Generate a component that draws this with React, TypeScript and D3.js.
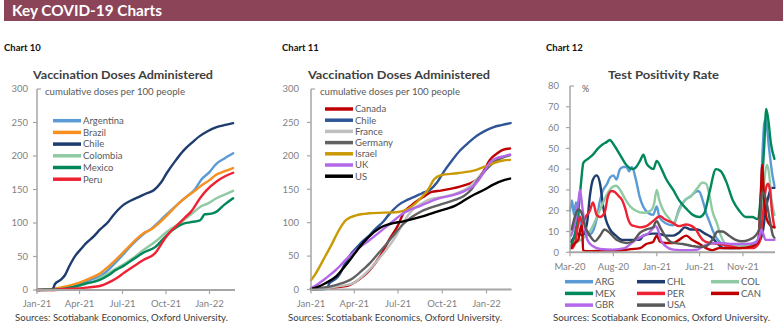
import React from "react";
import * as d3 from "d3";

type Pt = [string, number];

// ---------- Chart 10 : LatAm vaccination doses per 100 people ----------
const argentina: Pt[] = [["2021-01-01",0],["2021-01-20",0.5],["2021-02-05",1],["2021-03-01",3],["2021-04-01",9],["2021-05-01",17],["2021-05-15",21],["2021-06-01",30],["2021-06-15",40],["2021-07-01",52],["2021-07-15",63],["2021-08-01",75],["2021-08-15",84],["2021-09-01",92],["2021-09-15",101],["2021-10-01",112],["2021-10-15",121],["2021-11-01",132],["2021-11-15",140],["2021-12-01",150],["2021-12-15",165],["2022-01-01",176],["2022-01-15",188],["2022-02-01",196],["2022-02-20",204]];
const brazil: Pt[] = [["2021-01-01",0],["2021-01-20",0.5],["2021-02-05",2],["2021-03-01",5],["2021-04-01",11],["2021-05-01",20],["2021-05-15",25],["2021-06-01",35],["2021-06-15",44],["2021-07-01",55],["2021-07-15",65],["2021-08-01",77],["2021-08-15",85],["2021-09-01",91],["2021-09-15",99],["2021-10-01",110],["2021-10-15",120],["2021-11-01",132],["2021-11-15",140],["2021-12-01",148],["2021-12-15",156],["2022-01-01",164],["2022-01-15",172],["2022-02-01",177],["2022-02-20",182]];
const chile: Pt[] = [["2021-01-01",0],["2021-01-25",0.3],["2021-02-03",1],["2021-02-08",9],["2021-02-20",15],["2021-03-01",22],["2021-03-10",35],["2021-03-24",52],["2021-04-05",62],["2021-04-15",70],["2021-05-01",80],["2021-05-14",90],["2021-06-01",102],["2021-06-12",112],["2021-07-03",127],["2021-07-20",134],["2021-08-05",139],["2021-08-20",144],["2021-09-05",149],["2021-09-20",160],["2021-10-03",175],["2021-10-20",192],["2021-11-07",208],["2021-11-25",220],["2021-12-12",230],["2021-12-28",237],["2022-01-16",243],["2022-02-01",246],["2022-02-20",249]];
const colombia: Pt[] = [["2021-01-01",0],["2021-02-15",0],["2021-02-25",1],["2021-03-15",3],["2021-04-01",6],["2021-04-15",9],["2021-05-01",13],["2021-05-14",18],["2021-06-01",25],["2021-06-15",31],["2021-07-03",38],["2021-07-24",48],["2021-08-15",60],["2021-09-08",72],["2021-10-03",87],["2021-10-20",95],["2021-11-07",104],["2021-11-25",114],["2021-12-12",124],["2021-12-28",129],["2022-01-16",137],["2022-02-01",142],["2022-02-20",148]];
const mexico: Pt[] = [["2021-01-01",0],["2021-01-15",0.3],["2021-02-15",1],["2021-03-01",2],["2021-03-15",4],["2021-04-01",7],["2021-04-15",10],["2021-05-01",12],["2021-05-14",15],["2021-06-01",22],["2021-06-15",29],["2021-07-03",36],["2021-07-24",46],["2021-08-15",56],["2021-09-08",64],["2021-10-03",82],["2021-10-20",92],["2021-11-07",99],["2021-11-20",101],["2021-12-12",104],["2021-12-22",113],["2022-01-05",114],["2022-01-16",117],["2022-02-01",127],["2022-02-20",137]];
const peru: Pt[] = [["2021-01-01",0],["2021-02-08",0],["2021-02-15",1],["2021-03-01",1.5],["2021-04-01",2.5],["2021-04-20",4],["2021-05-14",6],["2021-06-01",11],["2021-06-19",18],["2021-07-05",26],["2021-07-24",35],["2021-08-15",45],["2021-09-08",55],["2021-09-27",75],["2021-10-10",87],["2021-10-25",97],["2021-11-10",108],["2021-11-23",117],["2021-12-12",137],["2021-12-26",149],["2022-01-16",162],["2022-02-01",169],["2022-02-20",175]];

// ---------- Chart 11 : other countries ----------
const canada: Pt[] = [["2021-01-01",0],["2021-01-20",1.5],["2021-02-15",3],["2021-03-15",5],["2021-04-05",12],["2021-04-20",20],["2021-05-03",29],["2021-05-24",49],["2021-06-14",76],["2021-07-01",96],["2021-07-12",114],["2021-07-29",126],["2021-08-26",140],["2021-09-09",146],["2021-09-28",148],["2021-10-20",151],["2021-11-07",154],["2021-11-25",158],["2021-12-11",164],["2021-12-25",176],["2022-01-08",194],["2022-01-22",203],["2022-02-04",209],["2022-02-19",211]];
const france: Pt[] = [["2021-01-01",0],["2021-01-20",1],["2021-02-10",3],["2021-03-01",5],["2021-03-29",9],["2021-04-15",18],["2021-05-03",30],["2021-05-20",44],["2021-06-07",60],["2021-06-25",78],["2021-07-12",100],["2021-07-25",114],["2021-08-05",122],["2021-08-20",129],["2021-09-02",134],["2021-10-06",139],["2021-11-07",146],["2021-11-25",153],["2021-12-11",164],["2021-12-25",175],["2022-01-08",185],["2022-01-25",194],["2022-02-19",201]];
const germany: Pt[] = [["2021-01-01",0],["2021-01-20",2],["2021-02-23",7],["2021-03-29",17],["2021-04-15",27],["2021-05-03",39],["2021-05-20",53],["2021-06-07",68],["2021-06-25",84],["2021-07-12",98],["2021-07-29",108],["2021-08-19",117],["2021-09-22",126],["2021-10-27",134],["2021-11-15",140],["2021-12-01",150],["2021-12-13",163],["2021-12-26",175],["2022-01-15",190],["2022-02-01",197],["2022-02-19",201]];
const israel: Pt[] = [["2021-01-01",14],["2021-01-09",22],["2021-01-30",49],["2021-02-12",66],["2021-02-26",86],["2021-03-15",104],["2021-04-05",111],["2021-05-03",114],["2021-07-01",116],["2021-07-29",124],["2021-08-19",138],["2021-09-02",150],["2021-09-14",165],["2021-09-28",171],["2021-11-01",174],["2021-12-11",179],["2022-01-08",187],["2022-02-04",193],["2022-02-19",194]];
const uk: Pt[] = [["2021-01-01",2],["2021-01-15",8],["2021-02-01",17],["2021-02-23",30],["2021-03-15",45],["2021-04-05",59],["2021-05-03",74],["2021-06-07",94],["2021-07-12",114],["2021-08-19",126],["2021-09-22",136],["2021-10-27",142],["2021-11-18",148],["2021-12-05",155],["2021-12-15",163],["2021-12-26",175],["2022-01-08",190],["2022-01-20",196],["2022-02-04",199],["2022-02-19",202]];
const us: Pt[] = [["2021-01-01",1],["2021-01-15",4],["2021-01-30",9],["2021-02-23",20],["2021-03-15",37],["2021-04-01",53],["2021-04-15",66],["2021-04-30",78],["2021-05-24",92],["2021-06-14",98],["2021-07-12",102],["2021-08-19",109],["2021-09-22",117],["2021-10-27",125],["2021-12-01",140],["2021-12-29",150],["2022-01-15",157],["2022-02-08",164],["2022-02-19",166]];

// ---------- Chart 12 : test positivity rate (%) ----------
const argPos: Pt[] = [["2020-03-01",20],["2020-03-08",25],["2020-03-15",18],["2020-03-22",24],["2020-03-31",20],["2020-04-10",12],["2020-04-25",8],["2020-05-15",9],["2020-06-03",16],["2020-06-15",25],["2020-06-26",30],["2020-07-10",33],["2020-07-20",36],["2020-08-01",37],["2020-08-12",35],["2020-08-24",40],["2020-09-05",41],["2020-09-16",41],["2020-09-25",39],["2020-10-05",41],["2020-10-21",34],["2020-11-01",27],["2020-11-14",22],["2020-12-01",19],["2020-12-19",18],["2021-01-01",22],["2021-01-10",17],["2021-02-01",14],["2021-02-28",13],["2021-03-21",21],["2021-04-10",25],["2021-05-01",27],["2021-05-25",29.5],["2021-06-01",29],["2021-06-12",25],["2021-06-24",19],["2021-07-05",15],["2021-07-16",11],["2021-08-04",6],["2021-08-21",4],["2021-09-15",2],["2021-10-20",2],["2021-12-01",4],["2021-12-25",6],["2022-01-01",20],["2022-01-08",45],["2022-01-15",62],["2022-01-20",64],["2022-02-01",50],["2022-02-12",38],["2022-02-20",32]];
const chlPos: Pt[] = [["2020-03-05",5],["2020-03-20",8],["2020-04-01",9],["2020-04-15",8],["2020-05-01",15],["2020-05-10",27],["2020-05-21",35],["2020-06-03",37],["2020-06-15",33],["2020-06-26",22],["2020-07-05",16],["2020-07-20",11],["2020-08-10",8],["2020-09-01",6],["2020-10-01",6],["2020-11-01",6],["2020-11-15",8],["2020-12-15",9],["2021-01-01",9],["2021-01-20",8.5],["2021-02-01",8],["2021-02-28",8],["2021-03-20",9.4],["2021-04-10",12],["2021-05-01",11],["2021-05-25",11],["2021-06-20",9],["2021-07-15",7],["2021-08-05",4],["2021-08-25",2],["2021-10-01",2],["2021-11-15",2.5],["2021-12-20",4],["2022-01-01",6],["2022-01-10",10],["2022-01-20",20],["2022-02-01",28],["2022-02-10",31],["2022-02-20",31]];
const colPos: Pt[] = [["2020-03-10",3],["2020-03-25",5],["2020-04-10",6],["2020-04-25",8],["2020-05-10",10],["2020-05-25",14],["2020-06-10",19],["2020-06-26",24],["2020-07-10",28],["2020-07-25",31],["2020-08-10",32],["2020-08-25",30],["2020-09-10",26],["2020-09-30",22],["2020-10-20",20],["2020-11-15",19],["2020-12-10",20],["2020-12-22",23],["2021-01-01",30],["2021-01-10",25],["2021-01-25",20],["2021-02-15",16],["2021-02-28",14],["2021-03-21",20],["2021-04-10",25],["2021-05-01",27],["2021-05-25",31],["2021-06-10",33.5],["2021-06-24",33],["2021-07-05",28],["2021-07-16",20],["2021-08-01",14],["2021-08-15",8],["2021-09-01",4],["2021-10-01",3],["2021-11-01",3],["2021-12-01",3],["2021-12-20",4],["2022-01-01",12],["2022-01-12",30],["2022-01-25",42],["2022-02-01",38],["2022-02-10",25],["2022-02-20",18]];
const mexPos: Pt[] = [["2020-03-05",3],["2020-03-20",10],["2020-04-01",22],["2020-04-10",35],["2020-04-17",43],["2020-05-04",45],["2020-05-21",47],["2020-06-08",50],["2020-06-25",52],["2020-07-08",53],["2020-07-19",54],["2020-08-06",51],["2020-08-24",47],["2020-09-16",42],["2020-10-09",40],["2020-10-20",41],["2020-11-03",44],["2020-11-15",47],["2020-11-25",43],["2020-12-07",41],["2020-12-20",40],["2021-01-01",44],["2021-01-18",40],["2021-02-04",35],["2021-02-28",30],["2021-03-21",25],["2021-04-15",21],["2021-05-08",18],["2021-06-01",17],["2021-06-18",19],["2021-07-06",29],["2021-07-29",40],["2021-08-15",39],["2021-09-03",34],["2021-09-26",25],["2021-10-19",20],["2021-11-11",17],["2021-12-04",17],["2021-12-22",16],["2022-01-03",27],["2022-01-15",51],["2022-01-22",69],["2022-01-29",64],["2022-02-08",52],["2022-02-20",45]];
const perPos: Pt[] = [["2020-03-10",2],["2020-03-20",5],["2020-03-28",12],["2020-04-05",17],["2020-04-15",14],["2020-04-25",17],["2020-05-10",20],["2020-05-21",24],["2020-06-03",18],["2020-06-15",17],["2020-07-01",19],["2020-07-13",27],["2020-07-25",29.5],["2020-08-06",29],["2020-08-20",27],["2020-09-01",25],["2020-09-12",21],["2020-09-22",16],["2020-10-05",13],["2020-10-16",12.6],["2020-11-03",12],["2020-11-25",12.6],["2020-12-19",15],["2021-01-13",17.4],["2021-01-28",16],["2021-02-28",14],["2021-03-20",12.6],["2021-04-15",13.4],["2021-05-05",12.6],["2021-05-19",11],["2021-06-01",8],["2021-06-12",6],["2021-07-06",4.5],["2021-08-09",4],["2021-09-15",3],["2021-10-19",2],["2021-12-06",2],["2021-12-28",4.5],["2022-01-09",16],["2022-01-20",30],["2022-01-28",33],["2022-02-04",30],["2022-02-12",19],["2022-02-20",12]];
const canPos: Pt[] = [["2020-03-05",2],["2020-03-15",4],["2020-03-30",6],["2020-04-08",12],["2020-04-13",13],["2020-04-16",1],["2020-05-01",0.5],["2020-07-01",0.8],["2020-09-01",1],["2020-10-01",1.5],["2020-11-03",2],["2020-11-25",4],["2020-12-19",5],["2021-01-01",8],["2021-01-13",5],["2021-02-01",4.5],["2021-02-28",4.5],["2021-03-21",6],["2021-04-15",8],["2021-05-05",6],["2021-06-01",4],["2021-06-24",2],["2021-07-16",1],["2021-08-09",2],["2021-09-01",2],["2021-10-19",2],["2021-12-06",3],["2021-12-25",5],["2022-01-02",25],["2022-01-08",42],["2022-01-14",27],["2022-01-24",16],["2022-02-05",13],["2022-02-20",12]];
const gbrPos: Pt[] = [["2020-03-05",8],["2020-03-20",15],["2020-03-31",25],["2020-04-05",30],["2020-04-15",20],["2020-05-01",6],["2020-05-20",3],["2020-06-15",1.6],["2020-08-01",1.3],["2020-09-10",2],["2020-09-30",4],["2020-10-20",6],["2020-11-15",8],["2020-12-01",9],["2020-12-15",11],["2020-12-28",12.6],["2021-01-05",11],["2021-01-15",6],["2021-02-01",3],["2021-02-28",1.3],["2021-04-15",1],["2021-05-25",1.3],["2021-06-15",3],["2021-07-05",4],["2021-08-10",4.5],["2021-09-25",4],["2021-11-10",4],["2021-12-15",4.5],["2021-12-30",8.5],["2022-01-05",11],["2022-01-20",6],["2022-02-20",6]];
const usaPos: Pt[] = [["2020-03-07",11],["2020-03-18",17],["2020-03-30",20.6],["2020-04-11",19],["2020-04-23",12.6],["2020-05-10",8],["2020-05-28",5.3],["2020-06-15",8],["2020-07-01",11],["2020-07-19",9.4],["2020-08-12",6],["2020-09-16",4.5],["2020-10-09",5.3],["2020-11-03",9.4],["2020-11-26",11],["2020-12-19",12],["2020-12-26",14],["2021-01-01",15],["2021-01-13",12],["2021-02-04",7],["2021-02-28",4.5],["2021-04-03",4],["2021-05-08",3],["2021-06-01",2.6],["2021-06-24",3],["2021-07-16",6],["2021-08-04",10],["2021-08-21",10],["2021-09-13",8],["2021-10-06",6],["2021-10-29",5.3],["2021-11-22",6],["2021-12-15",8],["2021-12-28",11],["2022-01-08",29],["2022-01-21",25.5],["2022-02-03",16],["2022-02-15",8],["2022-02-20",7]];

// tick labels
const vaxTickDates = ["2021-01-01", "2021-04-01", "2021-07-01", "2021-10-01", "2022-01-01"];
const vaxTickLabels = ["Jan-21", "Apr-21", "Jul-21", "Oct-21", "Jan-22"];
const posTickDates = ["2020-03-01", "2020-08-01", "2021-01-01", "2021-06-01", "2021-11-01"];
const posTickLabels = ["Mar-20", "Aug-20", "Jan-21", "Jun-21", "Nov-21"];
const vaxYTicks = [0, 50, 100, 150, 200, 250, 300];
const posYTicks = [0, 10, 20, 30, 40, 50, 60, 70, 80];

const parse = d3.timeParse("%Y-%m-%d");
const FONT = "Lato, 'Open Sans', sans-serif";
const AXIS = "#A6A6A6";
const TICKTXT = "#7F7F7F";

type Series = { name: string; color: string; data: Pt[] };

type PanelProps = {
  x0: number; x1: number; y0: number; y1: number;
  dStart: string; dEnd: string; yMax: number;
  yTicks: number[]; tickDates: string[]; tickLabels: string[];
  labelRight: number; xLabelY: number;
  series: Series[];
};

function Panel(p: PanelProps) {
  const x = d3.scaleTime().domain([parse(p.dStart)!, parse(p.dEnd)!]).range([p.x0, p.x1]);
  const y = d3.scaleLinear().domain([0, p.yMax]).range([p.y0, p.y1]);
  const line = d3.line<Pt>().x(d => x(parse(d[0])!)).y(d => y(d[1])).curve(d3.curveMonotoneX);
  return (
    <g>
      {p.series.map(s => (
        <path key={s.name} d={line(s.data) || ""} fill="none" stroke={s.color} strokeWidth={2.4} strokeLinejoin="round" strokeLinecap="round" />
      ))}
      <line x1={p.x0} x2={p.x0} y1={y(p.yMax)} y2={p.y0} stroke={AXIS} strokeWidth={1.5} />
      <line x1={p.x0} x2={p.x1} y1={p.y0} y2={p.y0} stroke={AXIS} strokeWidth={2} />
      {p.yTicks.map((t, i) => (
        <g key={t}>
          {i === p.yTicks.length - 1 ? (
            <line x1={p.x0} x2={p.x0 + 4} y1={y(t)} y2={y(t)} stroke={AXIS} strokeWidth={1.2} />
          ) : (
            <line x1={p.x0 - 4} x2={p.x0} y1={y(t)} y2={y(t)} stroke={AXIS} strokeWidth={1.2} />
          )}
          <text x={p.labelRight} y={y(t) + 3.3} textAnchor="end" fontSize={9.5} fill={TICKTXT} fontFamily={FONT}>{t}</text>
        </g>
      ))}
      {p.tickDates.map((d, i) => (
        <g key={d}>
          <line x1={x(parse(d)!)} x2={x(parse(d)!)} y1={p.y0} y2={p.y0 + 4} stroke={AXIS} strokeWidth={1.2} />
          <text x={x(parse(d)!)} y={p.xLabelY} textAnchor="middle" fontSize={9.5} fill={TICKTXT} fontFamily={FONT}>{p.tickLabels[i]}</text>
        </g>
      ))}
    </g>
  );
}

const c10: Series[] = [
  { name: "Argentina", color: "#5B9BD5", data: argentina },
  { name: "Brazil", color: "#F7901E", data: brazil },
  { name: "Chile", color: "#1F3C6E", data: chile },
  { name: "Colombia", color: "#8FCAA3", data: colombia },
  { name: "Mexico", color: "#00875A", data: mexico },
  { name: "Peru", color: "#EE2233", data: peru },
];
const c11: Series[] = [
  { name: "Canada", color: "#C00000", data: canada },
  { name: "Chile", color: "#2F5597", data: chile },
  { name: "France", color: "#BFBFBF", data: france },
  { name: "Germany", color: "#626262", data: germany },
  { name: "Israel", color: "#C99A06", data: israel },
  { name: "UK", color: "#B467E8", data: uk },
  { name: "US", color: "#000000", data: us },
];
const c12: Series[] = [
  { name: "ARG", color: "#5B9BD5", data: argPos },
  { name: "CHL", color: "#1F3C6E", data: chlPos },
  { name: "COL", color: "#8FCAA3", data: colPos },
  { name: "MEX", color: "#00875A", data: mexPos },
  { name: "PER", color: "#EE2233", data: perPos },
  { name: "CAN", color: "#C00000", data: canPos },
  { name: "GBR", color: "#B467E8", data: gbrPos },
  { name: "USA", color: "#595959", data: usaPos },
];

function Legend({ series, x, y0, dy }: { series: Series[]; x: number; y0: number; dy: number }) {
  return (
    <g>
      {series.map((s, i) => (
        <g key={s.name}>
          <line x1={x} x2={x + 28} y1={y0 + i * dy} y2={y0 + i * dy} stroke={s.color} strokeWidth={3.5} />
          <text x={x + 30} y={y0 + i * dy + 3.3} fontSize={9.5} fill="#595959" fontFamily={FONT}>{s.name}</text>
        </g>
      ))}
    </g>
  );
}

export default function App() {
  const src = "Sources: Scotiabank  Economics,  Oxford  University.";
  return (
    <svg width={783} height={330} style={{ position: "absolute", left: 0, top: 0, background: "#fff" }}>
      <rect x={4} y={0} width={779} height={21} fill="#8C4459" />
      <text x={12} y={16} fontSize={15} fontWeight={700} fill="#fff" fontFamily={FONT} textLength={150} lengthAdjust="spacingAndGlyphs">Key COVID-19 Charts</text>

      <text x={4} y={51} fontSize={9.5} fontWeight={700} fill="#111" fontFamily={FONT}>Chart 10</text>
      <text x={282} y={51} fontSize={9.5} fontWeight={700} fill="#111" fontFamily={FONT}>Chart 11</text>
      <text x={546} y={51} fontSize={9.5} fontWeight={700} fill="#111" fontFamily={FONT}>Chart 12</text>

      {/* Chart 10 */}
      <text x={33} y={79} fontSize={12} fontWeight={700} fill="#404040" fontFamily={FONT} textLength={180} lengthAdjust="spacingAndGlyphs">Vaccination Doses Administered</text>
      <text x={45} y={95} fontSize={9} fill="#595959" fontFamily={FONT} textLength={140} lengthAdjust="spacingAndGlyphs">cumulative doses per 100 people</text>
      <Panel x0={37} x1={235} y0={290} y1={89} dStart="2021-01-01" dEnd="2022-02-24" yMax={300}
        yTicks={vaxYTicks} tickDates={vaxTickDates} tickLabels={vaxTickLabels} labelRight={28} xLabelY={307} series={c10} />
      <Legend series={c10} x={53} y0={120.7} dy={11.7} />
      <text x={15} y={321} fontSize={9} fill="#404040" fontFamily={FONT} textLength={213} lengthAdjust="spacingAndGlyphs">{src}</text>

      {/* Chart 11 */}
      <text x={308} y={79} fontSize={12} fontWeight={700} fill="#404040" fontFamily={FONT} textLength={182} lengthAdjust="spacingAndGlyphs">Vaccination Doses Administered</text>
      <text x={320} y={95} fontSize={9} fill="#595959" fontFamily={FONT} textLength={140} lengthAdjust="spacingAndGlyphs">cumulative doses per 100 people</text>
      <Panel x0={311} x1={511.5} y0={289.5} y1={89} dStart="2021-01-01" dEnd="2022-02-22" yMax={300}
        yTicks={vaxYTicks} tickDates={vaxTickDates} tickLabels={vaxTickLabels} labelRight={299} xLabelY={307} series={c11} />
      <Legend series={c11} x={325} y0={109} dy={11.2} />
      <text x={288} y={321} fontSize={9} fill="#404040" fontFamily={FONT} textLength={214} lengthAdjust="spacingAndGlyphs">{src}</text>

      {/* Chart 12 */}
      <text x={608} y={79} fontSize={12} fontWeight={700} fill="#404040" fontFamily={FONT} textLength={111} lengthAdjust="spacingAndGlyphs">Test Positivity Rate</text>
      <text x={582} y={92} fontSize={9} fill="#595959" fontFamily={FONT}>%</text>
      <Panel x0={570} x1={775} y0={252.3} y1={86} dStart="2020-03-01" dEnd="2022-02-22" yMax={80}
        yTicks={posYTicks} tickDates={posTickDates} tickLabels={posTickLabels} labelRight={559} xLabelY={269.5} series={c12} />
      <Legend series={[c12[0], c12[3], c12[6]]} x={565} y0={281.7} dy={11.7} />
      <Legend series={[c12[1], c12[4], c12[7]]} x={637} y0={281.7} dy={11.7} />
      <Legend series={[c12[2], c12[5]]} x={711} y0={281.7} dy={11.7} />
      <text x={553} y={321} fontSize={9} fill="#404040" fontFamily={FONT} textLength={217} lengthAdjust="spacingAndGlyphs">{src}</text>
    </svg>
  );
}
